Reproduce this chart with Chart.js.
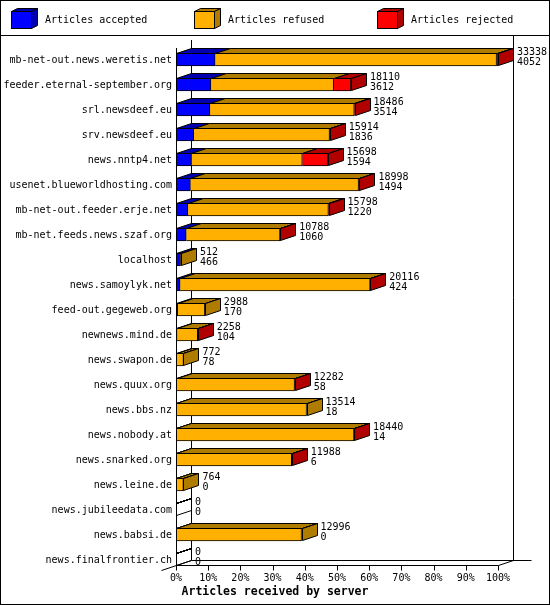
<!DOCTYPE html>
<html>
<head>
<meta charset="utf-8">
<script src="https://cdn.jsdelivr.net/npm/chart.js@4/dist/chart.umd.min.js"></script>
<style>
html,body{margin:0;padding:0;background:#fff;}
canvas{display:block;}
</style>
</head>
<body>
<canvas id="c" width="550" height="605"></canvas>
<script>
const categories = [
  "mb-net-out.news.weretis.net","feeder.eternal-september.org","srl.newsdeef.eu",
  "srv.newsdeef.eu","news.nntp4.net","usenet.blueworldhosting.com",
  "mb-net-out.feeder.erje.net","mb-net.feeds.news.szaf.org","localhost",
  "news.samoylyk.net","feed-out.gegeweb.org","newnews.mind.de","news.swapon.de",
  "news.quux.org","news.bbs.nz","news.nobody.at","news.snarked.org",
  "news.leine.de","news.jubileedata.com","news.babsi.de","news.finalfrontier.ch"
];
const totals   = [33338,18110,18486,15914,15698,18998,15798,10788,512,20116,2988,2258,772,12282,13514,18440,11988,764,0,12996,0];
const accepted = [4052,3612,3514,1836,1594,1494,1220,1060,466,424,170,104,78,58,18,14,6,0,0,0,0];
const refused  = [29136,12708,14942,14058,11484,17404,14558,9708,46,19672,2818,2144,694,12214,13496,18416,11972,764,0,12996,0];
const rejected = [150,1790,30,20,2620,100,20,20,0,20,0,10,0,10,0,10,10,0,0,0,0];
const seriesNames = ["Articles accepted","Articles refused","Articles rejected"];
const tickLabels = ["0%","10%","20%","30%","40%","50%","60%","70%","80%","90%","100%"];
const axisTitle = "Articles received by server";

const frontColors = ["#0000ff","#ffb000","#ff0000"];
const darkColors  = ["#0000b0","#b07c00","#b00000"];
const DX = 15, DY = 5;
const FONT = '10px "DejaVu Sans Mono", "Liberation Mono", monospace';
const maxTotal = Math.max(...totals);
const pct = arr => arr.map(v => v / maxTotal * 100);
const series = [accepted, refused, rejected];

function P(v){ return Math.round(v) + 0.5; }

function poly(ctx, pts, fill){
  ctx.beginPath();
  ctx.moveTo(pts[0][0], pts[0][1]);
  for (let k = 1; k < pts.length; k++) ctx.lineTo(pts[k][0], pts[k][1]);
  ctx.closePath();
  if (fill){ ctx.fillStyle = fill; ctx.fill(); }
  ctx.strokeStyle = "#000"; ctx.lineWidth = 1; ctx.stroke();
}
function line(ctx, x1, y1, x2, y2){
  ctx.beginPath(); ctx.moveTo(x1, y1); ctx.lineTo(x2, y2);
  ctx.strokeStyle = "#000"; ctx.lineWidth = 1; ctx.stroke();
}

const deco = {
  id: 'deco',
  beforeDraw(chart){
    const ctx = chart.ctx;
    ctx.save();
    ctx.fillStyle = "#fff"; ctx.fillRect(0, 0, 550, 605);
    ctx.strokeStyle = "#000"; ctx.lineWidth = 1;
    ctx.strokeRect(0.5, 0.5, 549, 604);
    line(ctx, 0, 35.5, 550, 35.5);
    // legend
    const lx = [11, 194, 377];
    for (let d = 0; d < 3; d++){
      const x0 = lx[d];
      ctx.fillStyle = frontColors[d];
      ctx.fillRect(x0, 11, 20, 17);
      ctx.strokeStyle = "#000"; ctx.strokeRect(x0 + 0.5, 11.5, 20, 17);
      poly(ctx, [[x0+0.5,11.5],[x0+20.5,11.5],[x0+26.5,8.5],[x0+6.5,8.5]], darkColors[d]);
      poly(ctx, [[x0+20.5,11.5],[x0+26.5,8.5],[x0+26.5,25.5],[x0+20.5,28.5]], darkColors[d]);
      ctx.fillStyle = "#000"; ctx.font = FONT; ctx.textAlign = "left"; ctx.textBaseline = "alphabetic";
      ctx.fillText(chart.data.datasets[d].label, x0 + 34, 22.5);
    }
    ctx.restore();
  },
  beforeDatasetsDraw(chart){
    const ctx = chart.ctx;
    const xs = chart.scales.x, ys = chart.scales.y;
    const x0 = xs.getPixelForValue(0), x1 = xs.getPixelForValue(100);
    const floorY = ys.getPixelForValue(categories.length - 1) + 5.5;
    ctx.save();
    // back wall axis and right wall
    line(ctx, P(x0 + DX), 40, P(x0 + DX), P(floorY - DY));
    line(ctx, P(x1 + DX), 35, P(x1 + DX), P(floorY - DY));
    // floors
    line(ctx, P(x0), P(floorY), P(x1), P(floorY));
    line(ctx, P(x1), P(floorY), P(x1 + DX), P(floorY - DY));
    line(ctx, P(x0 + DX), P(floorY - DY), P(x1 + DX + 18), P(floorY - DY));
    line(ctx, P(x0 - DX), P(floorY + DY), P(x0 + DX), P(floorY - DY));
    // ticks
    ctx.font = FONT; ctx.fillStyle = "#000"; ctx.textAlign = "center"; ctx.textBaseline = "alphabetic";
    tickLabels.forEach((t, k) => {
      const x = xs.getPixelForValue(k * 10);
      line(ctx, P(x), P(floorY), P(x), P(floorY) + 5);
      ctx.fillText(t, x, floorY + 16);
    });
    // category labels
    ctx.textAlign = "right";
    categories.forEach((c, i) => {
      const y = ys.getPixelForValue(i);
      ctx.fillText(c, x0 - 4, y + 3.5);
    });
    ctx.restore();
  },
  afterDatasetsDraw(chart){
    const ctx = chart.ctx;
    const xs = chart.scales.x, ys = chart.scales.y;
    const x0 = xs.getPixelForValue(0);
    const floorY = ys.getPixelForValue(categories.length - 1) + 5.5;
    const metas = [0,1,2].map(d => chart.getDatasetMeta(d));
    ctx.save();
    // front left line
    line(ctx, P(x0), 48, P(x0), P(floorY));
    for (let i = 0; i < categories.length; i++){
      let lastD = -1;
      let top = 0, bottom = 0, end = x0;
      for (let d = 0; d < 3; d++){
        const el = metas[d].data[i];
        const h = el.height;
        top = el.y - h / 2; bottom = el.y + h / 2;
        const l = Math.min(el.base, el.x), r = Math.max(el.base, el.x);
        poly(ctx, [[P(l),P(top)],[P(r),P(top)],[P(r+DX),P(top-DY)],[P(l+DX),P(top-DY)]], darkColors[d]);
        if (series[d][i] > 0){ lastD = d; }
        end = Math.max(end, r);
      }
      const sidePts = [[P(end),P(top)],[P(end+DX),P(top-DY)],[P(end+DX),P(bottom-DY)-1],[P(end),P(bottom)-1]];
      poly(ctx, sidePts, lastD >= 0 ? darkColors[lastD] : null);
      // value labels
      ctx.font = FONT; ctx.fillStyle = "#000"; ctx.textAlign = "left"; ctx.textBaseline = "alphabetic";
      const cy = (top + bottom) / 2;
      ctx.fillText(String(totals[i]), end + DX + 4, cy - 5);
      ctx.fillText(String(accepted[i]), end + DX + 4, cy + 5.5);
    }
    // axis title
    ctx.font = 'bold 11.5px "DejaVu Sans Mono", "Liberation Mono", monospace';
    ctx.textAlign = "center";
    ctx.fillText(axisTitle, 275, 595);
    ctx.restore();
  }
};

new Chart(document.getElementById('c'), {
  type: 'bar',
  data: {
    labels: categories,
    datasets: series.map((s, d) => ({
      label: seriesNames[d],
      data: pct(s),
      backgroundColor: frontColors[d],
      borderColor: "#000",
      borderWidth: 1,
      barThickness: 13,
      stack: 's'
    }))
  },
  options: {
    indexAxis: 'y',
    responsive: false,
    animation: false,
    devicePixelRatio: 1,
    layout: { padding: { left: 176, right: 52, top: 47, bottom: 33 } },
    scales: {
      x: { stacked: true, min: 0, max: 100, display: false },
      y: { stacked: true, display: false, offset: true }
    },
    plugins: { legend: { display: false }, tooltip: { enabled: false } }
  },
  plugins: [deco]
});
</script>
</body>
</html>
